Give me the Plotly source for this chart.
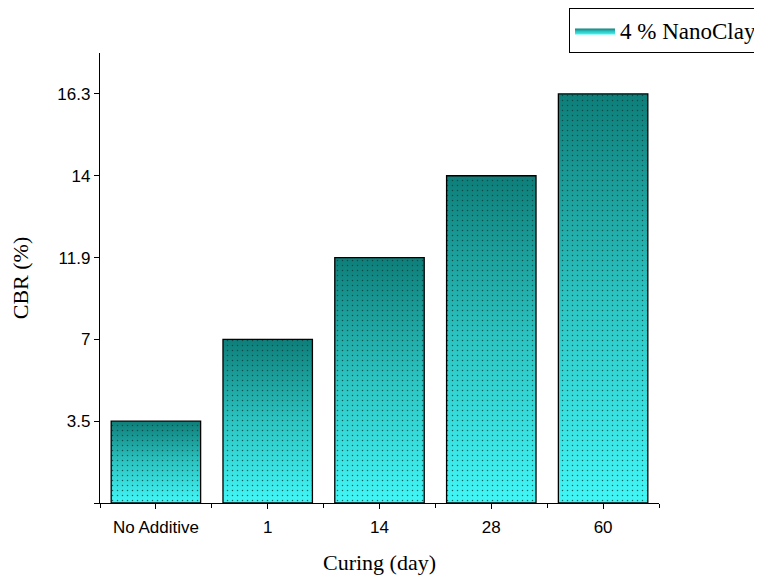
import numpy as np
import plotly.graph_objects as go

# ---- data ----
categories = ["No Additive", "1", "14", "28", "60"]
cbr_labels = ["3.5", "7", "11.9", "14", "16.3"]
series_name = "4 % NanoClay"

base_cat = " "
y_categories = [base_cat] + cbr_labels
bar_width = 0.8
x_pos = np.arange(len(categories))

grad_scale = [[0, "#42f6f6"], [0.5, "#2cc4c1"], [1, "#0e7e79"]]

fig = go.Figure()

# gradient fills
for i, (xc, val) in enumerate(zip(x_pos, cbr_labels)):
    xl, xr = xc - bar_width / 2, xc + bar_width / 2
    fig.add_trace(go.Scatter(
        x=[xl, xr, xr, xl, xl], y=[base_cat, base_cat, val, val, base_cat],
        mode="lines", fill="toself",
        line=dict(width=0, color="rgba(0,0,0,0)"),
        fillgradient=dict(type="vertical", colorscale=grad_scale),
        name=series_name, showlegend=(i == 0), legendgroup="g",
        hoverinfo="skip"))

# stipple + outline
for i, (xc, val) in enumerate(zip(x_pos, cbr_labels)):
    xl, xr = xc - bar_width / 2, xc + bar_width / 2
    fig.add_trace(go.Scatter(
        x=[xl, xr, xr, xl, xl], y=[base_cat, base_cat, val, val, base_cat],
        mode="lines", fill="toself", fillcolor="rgba(0,0,0,0)",
        fillpattern=dict(shape=".", fgcolor="#0a3a38", bgcolor="rgba(0,0,0,0)",
                         size=5, solidity=0.07, fgopacity=0.8),
        line=dict(width=1.3, color="black"),
        showlegend=False, legendgroup="g", hoverinfo="skip"))

minor_y = list(np.arange(len(cbr_labels) + 1) + 0.5)

# page body has an 8px margin, so the figure is drawn 8px in from the window edge
fig.update_layout(
    width=754, height=570,
    margin=dict(l=92, r=103, t=45, b=75, autoexpand=False),
    paper_bgcolor="white", plot_bgcolor="white",
    showlegend=True,
    legend=dict(xref="container", yref="container",
                x=1.01, y=1.0, xanchor="right", yanchor="top",
                bgcolor="white", bordercolor="black", borderwidth=1,
                tracegroupgap=0, itemwidth=40,
                font=dict(family="Liberation Serif", size=23, color="black")),
    xaxis=dict(range=[-0.5, 4.5], tickvals=list(x_pos), ticktext=categories,
               ticks="outside", ticklen=5, tickwidth=1.3, tickcolor="black",
               showline=True, linecolor="black", linewidth=1.3,
               showgrid=False, zeroline=False, ticklabelstandoff=3,
               minor=dict(tick0=-0.5, dtick=1, ticks="outside", ticklen=4,
                          tickwidth=1.3, tickcolor="black", showgrid=False),
               tickfont=dict(family="Liberation Sans", size=17, color="black"),
               title=dict(text="Curing (day)", standoff=19,
                          font=dict(family="Liberation Serif", size=22, color="black"))),
    yaxis=dict(type="category", categoryorder="array", categoryarray=y_categories,
               range=[0, 5.5],
               ticks="outside", ticklen=5, tickwidth=1.3, tickcolor="black",
               showline=True, linecolor="black", linewidth=1.3,
               showgrid=False, zeroline=False,
               tickfont=dict(family="Liberation Sans", size=17, color="black"),
               title=dict(text="CBR (%)", standoff=28,
                          font=dict(family="Liberation Serif", size=22, color="black"))),
    yaxis2=dict(overlaying="y", anchor="x", side="left", range=[0, 5.5],
                tickvals=minor_y, ticks="outside", ticklen=3, tickwidth=1.3,
                tickcolor="black", showticklabels=False, showline=False,
                showgrid=False, zeroline=False),
)

fig.write_html("out.html")
